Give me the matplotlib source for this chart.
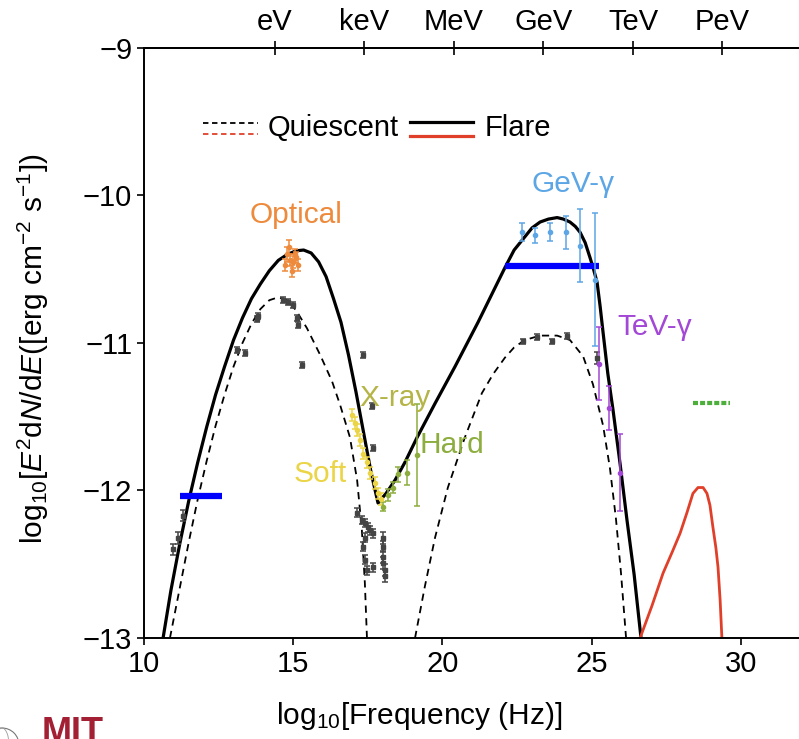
import numpy as np
import matplotlib.pyplot as plt
from matplotlib.lines import Line2D
from matplotlib.patches import Circle, Ellipse

plt.rcParams['font.family'] = ['Liberation Sans', 'DejaVu Sans']
plt.rcParams['mathtext.fontset'] = 'custom'
plt.rcParams['mathtext.rm'] = 'Liberation Sans'
plt.rcParams['mathtext.it'] = 'Liberation Sans:italic'

# model curves
flare_x = [10.64, 10.9, 11.2, 11.5, 11.8, 12.1, 12.4, 12.7, 13.0, 13.3, 13.6, 13.9, 14.2, 14.5,
           14.8, 15.1, 15.35, 15.6, 15.85, 16.1, 16.35, 16.6, 16.85, 17.1, 17.35, 17.6, 17.84,
           18.11, 18.41, 18.74, 19.15, 19.75, 20.42, 21.19, 22.09, 22.4, 22.76, 23.0, 23.27, 23.55,
           23.84, 24.05, 24.27, 24.45, 24.61, 24.78, 24.94, 25.06, 25.18, 25.28, 25.38, 25.54,
           25.71, 25.95, 26.18, 26.42, 26.65]
flare_y = [-13.00, -12.68, -12.36, -12.07, -11.81, -11.57, -11.35, -11.16, -10.98, -10.83, -10.70, -10.60,
           -10.51, -10.44, -10.40, -10.375, -10.37, -10.39, -10.45, -10.55, -10.70, -10.86, -11.08, -11.33,
           -11.60, -11.87, -12.085, -12.02, -11.93, -11.81, -11.64, -11.41, -11.16, -10.86, -10.49, -10.37,
           -10.28, -10.22, -10.18, -10.16, -10.15, -10.16, -10.18, -10.21, -10.25, -10.32, -10.42, -10.50,
           -10.59, -10.75, -10.93, -11.21, -11.45, -11.82, -12.20, -12.57, -13.00]

quiet_sync_x = [10.87, 11.2, 11.5, 11.8, 12.1, 12.4, 12.7, 13.0, 13.3, 13.6, 13.9, 14.2, 14.5, 14.8,
                15.1, 15.46, 15.9, 16.3, 16.57, 16.9, 17.14, 17.30, 17.40, 17.47]
quiet_sync_y = [-13.00, -12.66, -12.35, -12.06, -11.80, -11.56, -11.35, -11.16, -11.00, -10.87, -10.77,
                -10.71, -10.69, -10.71, -10.78, -10.90, -11.08, -11.26, -11.42, -11.64, -11.93, -12.27,
                -12.63, -13.00]

quiet_ic_x = [19.08, 19.41, 19.75, 20.18, 20.75, 21.32, 21.7, 22.09, 22.4, 22.76, 23.27, 23.84, 24.27,
              24.71, 25.04, 25.38, 25.61, 25.81, 25.98, 26.15]
quiet_ic_y = [-13.00, -12.65, -12.32, -11.98, -11.64, -11.34, -11.21, -11.10, -11.03, -10.98, -10.95,
              -10.95, -10.98, -11.09, -11.28, -11.56, -11.85, -12.19, -12.56, -13.00]

flare_had_x = [26.62, 27.02, 27.39, 27.69, 27.96, 28.19, 28.39, 28.56, 28.73, 28.86, 28.96, 29.06,
               29.16, 29.23, 29.30, 29.36]
flare_had_y = [-13.00, -12.78, -12.56, -12.42, -12.29, -12.15, -12.02, -11.98, -11.98, -12.02, -12.10,
               -12.25, -12.39, -12.52, -12.74, -13.00]

# green dotted limit and blue bars
nu_x = [28.39, 29.63]
nu_y = [-11.41, -11.41]
bar_radio_x = [11.21, 12.61]
bar_radio_y = [-12.04, -12.04]
bar_gev_x = [22.09, 25.24]
bar_gev_y = [-10.48, -10.48]

# quiescent data (gray)
q_x = [10.97, 11.14, 11.31, 13.12, 13.38, 13.79, 13.82, 14.66, 14.82, 14.99, 15.13, 15.16, 15.29,
       17.34, 17.64, 17.67, 17.14, 17.30, 17.40, 17.50, 17.57, 17.67, 17.40, 17.34, 17.40, 17.67, 17.47,
       18.01, 18.01, 18.01, 18.01, 18.08, 18.08,
       22.70, 23.17, 23.67, 24.17, 25.18]
q_y = [-12.40, -12.32, -12.17, -11.05, -11.07, -10.84, -10.82, -10.71, -10.72, -10.74, -10.83, -10.88, -11.15,
       -11.08, -11.43, -11.71, -12.15, -12.20, -12.22, -12.25, -12.27, -12.29, -12.32, -12.38, -12.47, -12.52, -12.54,
       -12.32, -12.38, -12.45, -12.49, -12.54, -12.58,
       -10.99, -10.96, -10.99, -10.95, -11.10]
q_err = [0.04, 0.04, 0.04, 0.02, 0.02, 0.02, 0.02, 0.02, 0.02, 0.02, 0.02, 0.02, 0.02,
         0.02, 0.02, 0.02, 0.03, 0.03, 0.03, 0.03, 0.03, 0.03, 0.03, 0.03, 0.03, 0.03, 0.03,
         0.04, 0.04, 0.04, 0.04, 0.04, 0.04,
         0.02, 0.02, 0.02, 0.02, 0.04]

# flare data
opt_x = [14.72, 14.79, 14.85, 14.89, 14.95, 14.99, 15.05, 15.09, 15.16]
opt_y = [-10.47, -10.40, -10.35, -10.44, -10.51, -10.45, -10.40, -10.42, -10.47]
opt_err = [0.04, 0.05, 0.05, 0.04, 0.04, 0.04, 0.04, 0.04, 0.04]

soft_x = [16.97, 17.07, 17.14, 17.24, 17.34, 17.47, 17.57, 17.74, 17.84, 17.94]
soft_y = [-11.49, -11.54, -11.59, -11.66, -11.75, -11.81, -11.88, -11.95, -12.02, -12.06]
soft_err = [0.04, 0.04, 0.04, 0.04, 0.04, 0.04, 0.04, 0.04, 0.04, 0.04]

hard_x = [18.01, 18.17, 18.34, 18.51, 18.81, 19.15]
hard_y = [-12.11, -12.03, -11.98, -11.89, -11.88, -11.76]
hard_err = [0.03, 0.04, 0.04, 0.05, 0.085, 0.345]

gev_x = [22.66, 23.10, 23.60, 24.14, 24.61, 25.11]
gev_y = [-10.25, -10.27, -10.25, -10.25, -10.34, -10.57]
gev_err = [0.06, 0.05, 0.06, 0.11, 0.25, 0.45]

tev_x = [25.24, 25.58, 25.95]
tev_y = [-11.14, -11.44, -11.88]
tev_err = [0.25, 0.15, 0.26]

top_ticks = [14.38, 17.38, 20.38, 23.38, 26.38, 29.38]
top_labels = ['eV', 'keV', 'MeV', 'GeV', 'TeV', 'PeV']

c_opt = '#EE8A3C'
c_soft = '#EBD445'
c_xray = '#B5B446'
c_hard = '#8DAD3E'
c_gev = '#5DA6E6'
c_tev = '#A347D6'
c_red = '#E0402A'

fig = plt.figure(figsize=(7.99, 7.39), dpi=100)
ax = fig.add_axes([0.1802, 0.1367, 0.8294, 0.7984])

# curves
ax.plot(quiet_sync_x, quiet_sync_y, color='black', lw=1.3, ls=(0, (4, 3)))
ax.plot(quiet_ic_x, quiet_ic_y, color='black', lw=1.3, ls=(0, (4, 3)))
ax.plot(flare_x, flare_y, color='black', lw=2.3, solid_joinstyle='round')
ax.plot(flare_had_x, flare_had_y, color=c_red, lw=2.0, solid_joinstyle='round')
ax.plot(nu_x, nu_y, color='#4CAF3A', lw=3, ls=(0, (1.2, 0.5)))
ax.plot(bar_radio_x, bar_radio_y, color='#0000FF', lw=4.5, solid_capstyle='butt')
ax.plot(bar_gev_x, bar_gev_y, color='#0000FF', lw=4.5, solid_capstyle='butt')

# data points
eb = dict(fmt='s', ms=3.5, capsize=2.5, elinewidth=1.1, capthick=1.1, ls='none')
ax.errorbar(q_x, q_y, yerr=q_err, color='#444444', **eb)
eb['fmt'] = 'o'
eb['ms'] = 3
ax.errorbar(opt_x, opt_y, yerr=opt_err, color=c_opt, **eb)
ax.errorbar(soft_x, soft_y, yerr=soft_err, color=c_soft, **eb)
ax.errorbar(hard_x, hard_y, yerr=hard_err, color=c_hard, **eb)
ax.errorbar(gev_x, gev_y, yerr=gev_err, color=c_gev, **eb)
ax.errorbar(tev_x, tev_y, yerr=tev_err, color=c_tev, **eb)

# labels
fs = 21.5
ax.text(15.09, -10.13, 'Optical', color=c_opt, fontsize=fs, ha='center', va='center')
ax.text(24.37, -9.92, 'GeV-γ', color=c_gev, fontsize=fs, ha='center', va='center')
ax.text(27.12, -10.89, 'TeV-γ', color=c_tev, fontsize=fs, ha='center', va='center')
ax.text(18.41, -11.37, 'X-ray', color=c_xray, fontsize=fs, ha='center', va='center')
ax.text(20.32, -11.69, 'Hard', color=c_hard, fontsize=fs, ha='center', va='center')
ax.text(15.90, -11.89, 'Soft', color=c_soft, fontsize=fs, ha='center', va='center')

# hand-made legend
T = ax.transAxes
ax.add_line(Line2D([0.089, 0.172], [0.873, 0.873], color='black', lw=1.3, ls=(0, (3, 2)), transform=T))
ax.add_line(Line2D([0.089, 0.172], [0.854, 0.854], color=c_red, lw=1.3, ls=(0, (3, 2)), transform=T))
ax.text(0.186, 0.864, 'Quiescent', fontsize=21, transform=T, va='center')
ax.add_line(Line2D([0.402, 0.497], [0.875, 0.875], color='black', lw=2.3, transform=T))
ax.add_line(Line2D([0.402, 0.497], [0.851, 0.851], color=c_red, lw=2.3, transform=T))
ax.text(0.514, 0.864, 'Flare', fontsize=21, transform=T, va='center')

ax.set_xlim(10, 32.2)
ax.set_ylim(-13, -9)
ax.set_xticks([10, 15, 20, 25, 30])
ax.set_yticks([-13, -12, -11, -10, -9])
ax.tick_params(labelsize=21, direction='out', length=5, width=1.2)
for s in ax.spines.values():
    s.set_linewidth(1.4)
ax.spines['right'].set_visible(False)

top = ax.secondary_xaxis('top')
top.set_xticks(top_ticks)
top.set_xticklabels(top_labels)
top.tick_params(labelsize=21, direction='inout', length=10, width=1.2)
top.spines['top'].set_linewidth(1.4)

ax.set_xlabel('log$_{10}$[Frequency (Hz)]', fontsize=21.5)
ax.xaxis.set_label_coords(0.416, -0.105)
ax.set_ylabel('log$_{10}$[$E^2$d$N$/d$E$([erg cm$^{-2}$ s$^{-1}$])', fontsize=21.5)
ax.yaxis.set_label_coords(-0.14, 0.49)

# logo in the lower left corner (cut by the edge, as in the screenshot)
fig.text(42 / 799, 1 - 716 / 739, 'MIT', color='#A31F34', fontsize=26, fontweight='bold', va='top')
fig.patches.append(Circle((2, -6), 17, transform=None, fill=False, ec='#777777', lw=0.8))
fig.patches.append(Ellipse((2, -6), 14, 34, transform=None, fill=False, ec='#999999', lw=0.6))

fig.savefig('out.png', dpi=100)
